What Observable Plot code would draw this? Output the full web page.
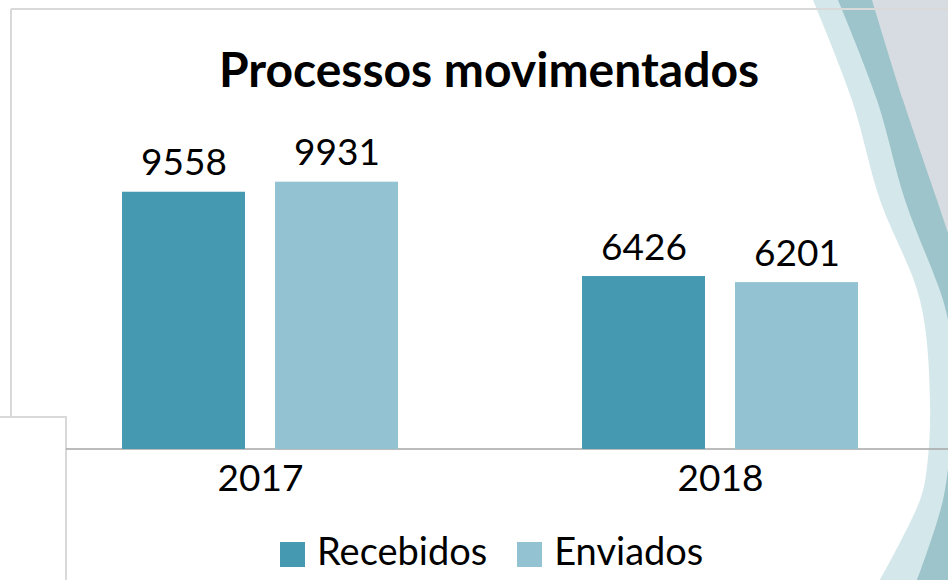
<!DOCTYPE html>
<html><head><meta charset="utf-8">
<script src="https://cdn.jsdelivr.net/npm/d3@7"></script>
<script src="https://cdn.jsdelivr.net/npm/@observablehq/plot@0.6"></script>
<style>
html,body{margin:0;padding:0;background:#fff;}
#wrap{position:relative;width:948px;height:580px;overflow:hidden;font-family:Lato,sans-serif;color:#000;}
#bg{position:absolute;left:0;top:0;}
#chart{position:absolute;left:0;top:0;}
#title{position:absolute;left:0;top:45px;width:978px;text-align:center;font-weight:700;font-size:48px;line-height:1;white-space:nowrap;}
#legend{position:absolute;left:280px;top:531px;font-size:38px;line-height:1;white-space:nowrap;}
#legend .item{display:inline-block;margin-right:30px;}
#legend .sw{display:inline-block;width:25px;height:25px;margin-right:12px;vertical-align:-2px;}
</style>
</head><body>
<div id="wrap">
  <svg id="bg" width="948" height="580"></svg>
  <div id="chart"></div>
  <div id="title">Processos movimentados</div>
  <div id="legend"></div>
</div>
<script>
const years = ["2017", "2018"];
const series = ["Recebidos", "Enviados"];
const recebidos = [9558, 6426];
const enviados = [9931, 6201];
const colors = ["#459ab1", "#93c3d3"];
const titleText = "Processos movimentados";

const data = years.flatMap((y, i) => [
  {year: y, serie: series[0], value: recebidos[i]},
  {year: y, serie: series[1], value: enviados[i]}
]);

const chart = Plot.plot({
  width: 948, height: 510,
  marginLeft: 122, marginRight: 90, marginTop: 126, marginBottom: 61,
  facetMarginTop: 0, facetMarginBottom: 0, facetMarginLeft: 0, facetMarginRight: 0,
  fx: {domain: years, paddingInner: 0.4, paddingOuter: 0, round: false, label: null},
  x: {domain: series, paddingInner: 0.196, paddingOuter: 0, round: false, axis: null},
  y: {domain: [0, 12000], axis: null},
  color: {domain: series, range: colors},
  style: {background: "transparent", fontFamily: "Lato, sans-serif", color: "#000", overflow: "visible"},
  marks: [
    Plot.barY(data, {fx: "year", x: "serie", y: "value", fill: "serie"}),
    Plot.text(data, {fx: "year", x: "serie", y: "value", text: d => String(d.value), dy: -17, lineAnchor: "bottom", fontSize: 37, fill: "#000"}),
    Plot.axisFx({anchor: "bottom", tickSize: 0, tickPadding: 15, fontSize: 37, label: null, fill: "#000"})
  ]
});
document.getElementById("chart").appendChild(chart);

// legend
const leg = d3.select("#legend");
series.forEach((s, i) => {
  const it = leg.append("span").attr("class", "item");
  it.append("span").attr("class", "sw").style("background", colors[i]);
  it.append("span").text(s);
});

// background decoration and frame lines
const bg = d3.select("#bg");
const curve = d3.line().curve(d3.curveCatmullRom);
const lightEdge = [[813,0],[852,100],[880,200],[920,300],[930,400],[927,467],[920,500],[880,580]];
const tealEdge = [[838,0],[877,100],[905,200],[943,300],[952,340]];
const grayEdge = [[872,0],[903,100],[937,200],[952,245]];
const tealBottom = [[952,430],[943,500],[917,580]];
bg.append("path").attr("d", curve(lightEdge) + "L948,580L948,0Z").attr("fill", "#d4e7ea");
bg.append("path").attr("d", curve(tealEdge) + "L952,0Z").attr("fill", "#9dc4ca");
bg.append("path").attr("d", curve(grayEdge) + "L952,0Z").attr("fill", "#d6dce1");
bg.append("path").attr("d", curve(tealBottom) + "L952,580Z").attr("fill", "#9dc4ca");
const frame = "#d9d9d9";
bg.append("path").attr("d", "M11,9H948M11,9V417M0,417H66V580").attr("fill", "none").attr("stroke", frame).attr("stroke-width", 2);
const y0 = chart.scale("y").apply(0);
bg.append("line").attr("x1", 66).attr("x2", 948).attr("y1", y0).attr("y2", y0).attr("stroke", "#a6a6a6").attr("stroke-width", 1.5);
</script>
</body></html>
